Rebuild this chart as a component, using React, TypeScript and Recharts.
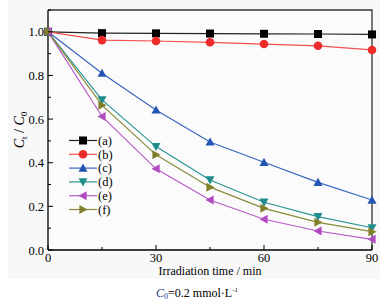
import { LineChart, Line, XAxis, YAxis } from "recharts";

const times = [0, 15, 30, 45, 60, 75, 90];
const seriesA = [1.0, 0.994, 0.993, 0.992, 0.991, 0.99, 0.988];
const seriesB = [1.0, 0.962, 0.958, 0.952, 0.944, 0.936, 0.917];
const seriesC = [1.0, 0.81, 0.642, 0.495, 0.402, 0.31, 0.229];
const seriesD = [1.0, 0.688, 0.474, 0.321, 0.219, 0.153, 0.102];
const seriesE = [1.0, 0.612, 0.372, 0.229, 0.141, 0.087, 0.049];
const seriesF = [1.0, 0.664, 0.436, 0.288, 0.191, 0.127, 0.084];

const xTicks = [0, 15, 30, 45, 60, 75, 90];
const xLabels = [0, 30, 60, 90];
const yTicks = [0, 0.1, 0.2, 0.3, 0.4, 0.5, 0.6, 0.7, 0.8, 0.9, 1.0, 1.1];
const yLabels = [0, 0.2, 0.4, 0.6, 0.8, 1.0];

const data = times.map((t, i) => ({
  t,
  a: seriesA[i],
  b: seriesB[i],
  c: seriesC[i],
  d: seriesD[i],
  e: seriesE[i],
  f: seriesF[i],
}));

type Shape = "square" | "circle" | "up" | "down" | "left" | "right";

const series: { key: string; label: string; color: string; line: string; shape: Shape }[] = [
  { key: "a", label: "(a)", color: "#000000", line: "#222222", shape: "square" },
  { key: "b", label: "(b)", color: "#ee2b2b", line: "#f05050", shape: "circle" },
  { key: "c", label: "(c)", color: "#2454b4", line: "#3a66c0", shape: "up" },
  { key: "d", label: "(d)", color: "#218c8c", line: "#2a9494", shape: "down" },
  { key: "e", label: "(e)", color: "#b04cc0", line: "#b85ac8", shape: "left" },
  { key: "f", label: "(f)", color: "#80802a", line: "#8a8a3a", shape: "right" },
];

const FONT = "Liberation Serif, DejaVu Serif, serif";

function Marker({ cx, cy, shape, color }: { cx: number; cy: number; shape: Shape; color: string }) {
  if (cx == null || cy == null) return null;
  const r = 4.5;
  if (shape === "square") return <rect x={cx - 4} y={cy - 4} width={8} height={8} fill={color} />;
  if (shape === "circle") return <circle cx={cx} cy={cy} r={4.3} fill={color} />;
  let pts = "";
  if (shape === "up") pts = `${cx},${cy - r} ${cx - r},${cy + r * 0.8} ${cx + r},${cy + r * 0.8}`;
  if (shape === "down") pts = `${cx},${cy + r} ${cx - r},${cy - r * 0.8} ${cx + r},${cy - r * 0.8}`;
  if (shape === "left") pts = `${cx - r},${cy} ${cx + r * 0.8},${cy - r} ${cx + r * 0.8},${cy + r}`;
  if (shape === "right") pts = `${cx + r},${cy} ${cx - r * 0.8},${cy - r} ${cx - r * 0.8},${cy + r}`;
  return <polygon points={pts} fill={color} />;
}

function YTick(props: any) {
  const { y, payload } = props;
  const v = payload.value;
  const major = yLabels.some((l) => Math.abs(l - v) < 1e-6);
  return (
    <g>
      <line x1={48} x2={major ? 53 : 51} y1={y} y2={y} stroke="#000" />
      {major && (
        <text x={44} y={y} dy={4.5} textAnchor="end" fontSize={12.5} fontFamily={FONT} fill="#000">
          {v.toFixed(1)}
        </text>
      )}
    </g>
  );
}

function XTick(props: any) {
  const { x, payload } = props;
  const v = payload.value;
  const major = xLabels.includes(v);
  return (
    <g>
      <line x1={x} x2={x} y1={250} y2={major ? 245 : 247} stroke="#000" />
      {major && (
        <text x={x} y={262} textAnchor="middle" fontSize={12.5} fontFamily={FONT} fill="#000">
          {v}
        </text>
      )}
    </g>
  );
}

function LegendBox({ x, y }: { x: number; y: number }) {
  return (
    <g transform={`translate(${x},${y})`}>
      {series.map((s, i) => {
        const ry = i * 13.8;
        return (
          <g key={s.key}>
            <line x1={0} x2={28} y1={ry} y2={ry} stroke={s.line} strokeWidth={1.2} />
            <Marker cx={14} cy={ry} shape={s.shape} color={s.color} />
            <text x={29} y={ry} dy={4.3} fontSize={12.5} fontFamily={FONT} fill="#000">
              {s.label}
            </text>
          </g>
        );
      })}
    </g>
  );
}

export default function App() {
  return (
    <div style={{ position: "absolute", left: 0, top: 0, width: 386, height: 308, background: "#ffffff" }}>
      <div style={{ position: "absolute", left: 8, top: 0, width: 372, height: 279, background: "#f8f8f8" }} />
      <div style={{ position: "absolute", left: 48, top: 10, width: 324, height: 240, background: "#fbfbfb" }} />
      <div style={{ position: "absolute", left: 0, top: 0 }}>
        <LineChart width={386} height={308} data={data} margin={{ top: 10, right: 14, bottom: 38, left: 8 }}>
          <XAxis
            dataKey="t"
            type="number"
            domain={[0, 90]}
            ticks={xTicks}
            interval={0}
            height={20}
            tick={<XTick />}
            tickLine={false}
            axisLine={{ stroke: "#000", strokeWidth: 1.3 }}
          />
          <YAxis
            type="number"
            domain={[0, 1.1]}
            ticks={yTicks}
            interval={0}
            width={40}
            tick={<YTick />}
            tickLine={false}
            axisLine={{ stroke: "#000", strokeWidth: 1.3 }}
          />
          {/* plot frame: top and right edges */}
          <polyline points="48,10 372,10 372,250" fill="none" stroke="#333" strokeWidth={1.3} />
          {series.map((s) => (
            <Line
              key={s.key}
              dataKey={s.key}
              stroke={s.line}
              strokeWidth={1.2}
              isAnimationActive={false}
              dot={(p: any) => <Marker key={`${s.key}-${p.index}`} cx={p.cx} cy={p.cy} shape={s.shape} color={s.color} />}
              activeDot={false}
            />
          ))}
          <LegendBox x={69} y={140.5} />
          <text x={210} y={275} textAnchor="middle" fontSize={12} fontFamily={FONT} fill="#000">
            Irradiation time / min
          </text>
          <text
            x={24}
            y={130}
            textAnchor="middle"
            fontSize={14}
            fontFamily={FONT}
            fill="#000"
            transform="rotate(-90 24 130)"
          >
            <tspan fontStyle="italic">C</tspan>
            <tspan fontSize={9} dy={3}>t</tspan>
            <tspan dy={-3}> / </tspan>
            <tspan fontStyle="italic">C</tspan>
            <tspan fontSize={9} dy={3}>0</tspan>
          </text>
          <text x={197} y={297} textAnchor="middle" fontSize={12} fontFamily={FONT} fill="#000">
            <tspan fontStyle="italic" fill="#23408e">C</tspan>
            <tspan fontSize={8} dy={2} fill="#23408e">0</tspan>
            <tspan dy={-2}>=0.2  mmol·L</tspan>
            <tspan fontSize={7} dy={-5}>-1</tspan>
          </text>
        </LineChart>
      </div>
    </div>
  );
}
